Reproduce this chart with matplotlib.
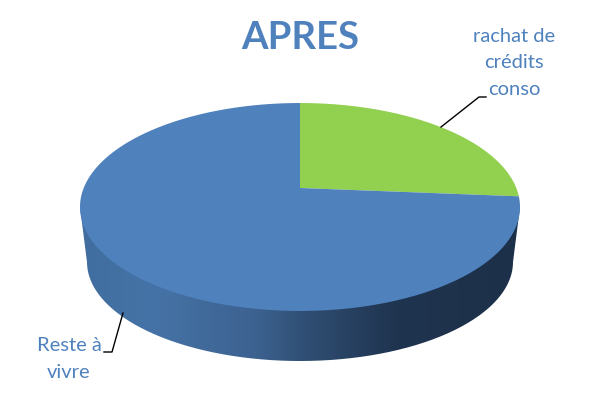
import numpy as np
import matplotlib
matplotlib.use('Agg')
import matplotlib.pyplot as plt
from matplotlib.colors import LinearSegmentedColormap
from matplotlib.patches import PathPatch
from matplotlib.path import Path

title = 'APRES'
labels = ['rachat de\ncrédits\nconso', 'Reste à\nvivre']
values = [26.3, 73.7]
colors = ['#92D050', '#4F81BD']

# shading of the pie side, left to right
side_stops = [(0.0, '#416E9F'), (0.16, '#4673A7'), (0.4, '#3C6290'),
              (0.52, '#2F4D72'), (0.72, '#1F344F'), (1.0, '#1D3049')]


def project(u, v):
    # tilted disc seen in perspective, back of the disc looks smaller
    k = 0.1827
    x = 300 + 216.3 * u / (1 + k * v)
    y = 188 - 100.5 * v / (1 + k * v)
    return x, y


fig = plt.figure(figsize=(6, 4), dpi=100, facecolor='white')
ax = fig.add_axes([0, 0, 1, 1])
ax.set_xlim(0, 600)
ax.set_ylim(400, 0)
ax.axis('off')

# side of the pie: lower rim joined to the widest points of the top rim
a = np.linspace(0, np.pi, 200)
side_x = np.r_[80, 520, 300 + 213 * np.cos(a)]
side_y = np.r_[207, 207, 262 + 99 * np.sin(a)]
side = PathPatch(Path(np.c_[side_x, side_y]), facecolor='none', edgecolor='none')
ax.add_patch(side)
cmap = LinearSegmentedColormap.from_list('side', side_stops)
grad = ax.imshow(np.linspace(0, 1, 256)[None, :], cmap=cmap, extent=(80, 520, 365, 200),
                 aspect='auto', zorder=1)
grad.set_clip_path(side)
ax.set_xlim(0, 600)
ax.set_ylim(400, 0)

# slices from the values, clockwise from the top
edges = np.r_[0, np.cumsum(values)] / sum(values) * 2 * np.pi
for i in range(len(values)):
    th = np.linspace(edges[i], edges[i + 1], 300)
    u = np.r_[0, np.sin(th)]
    v = np.r_[0, np.cos(th)]
    px, py = project(u, v)
    ax.fill(px, py, color=colors[i], lw=0, zorder=2)

ax.text(300, 38, title, color='#4F81BD', fontsize=27.5, fontweight='bold', family='Lato',
        ha='center', va='center')
ax.text(514, 63, labels[0], color='#4F81BD', fontsize=14.5, family='Lato', ha='center', va='center',
        linespacing=1.7)
ax.text(69, 359, labels[1], color='#4F81BD', fontsize=14.5, family='Lato', ha='center', va='center',
        linespacing=1.7)

ax.plot([441, 479, 486], [127, 97, 97], color='black', lw=1, zorder=3)
ax.plot([123, 112, 104], [313, 352, 352], color='black', lw=1, zorder=3)

fig.savefig('out.png', dpi=100, facecolor='white')
